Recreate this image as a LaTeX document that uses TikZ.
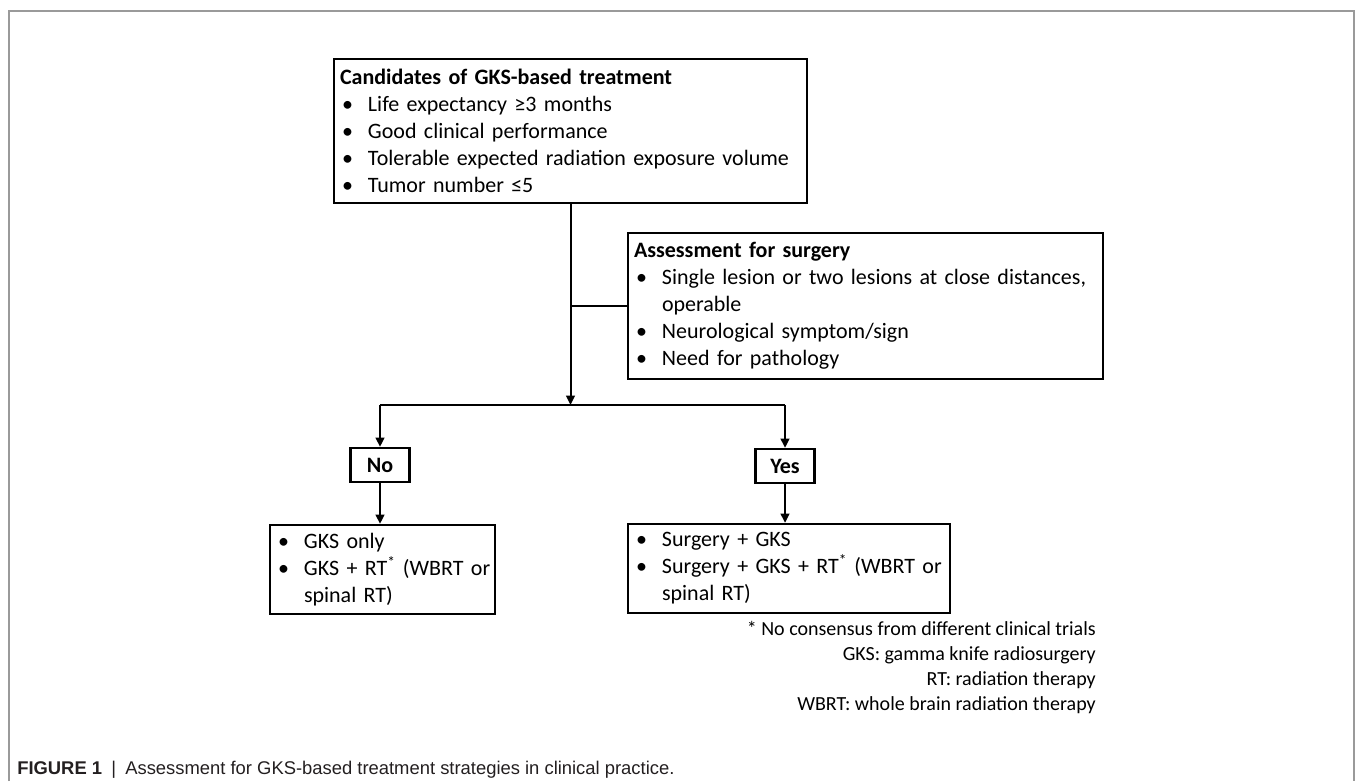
\documentclass[tikz,border=0pt]{standalone}
\usepackage{fontspec}
\setmainfont{Carlito}
\newfontfamily\capfont{Liberation Sans}
\usepackage{tikz}
\usepackage{xcolor}
\usetikzlibrary{positioning, arrows.meta}
\definecolor{frameGray}{HTML}{9A9A9A}
\definecolor{capGray}{HTML}{231F20}
\newcommand{\mainsize}{\fontsize{16.5pt}{20.25pt}\selectfont}
\newcommand{\notesize}{\fontsize{15pt}{18.75pt}\selectfont}
\newcommand{\bitem}[1]{\makebox[21pt][l]{\hspace{1.5pt}\textbullet}\mbox{#1}}
\newcommand{\bcont}[1]{\hspace*{21pt}#1}

\begin{document}
\begin{tikzpicture}[
  x=0.75pt, y=-0.75pt,
  >={Triangle[length=7pt,width=6.5pt]},
  box/.style={draw, line width=1.7pt, inner xsep=4.5pt, inner ysep=0pt,
              align=left, font=\mainsize},
  ans/.style={draw, line width=1.7pt, minimum width=44.25pt,
              minimum height=25.5pt, inner sep=0pt, font=\mainsize\bfseries},
  link/.style={line width=1.5pt},
]
  \useasboundingbox (0,0) rectangle (1355,781);

  % Outer frame
  \draw[frameGray, line width=1.5pt] (9,781) -- (9,11) -- (1354,11) -- (1354,781);

  % Candidates
  \node[box, minimum width=354.75pt, minimum height=108pt, text width=345.75pt]
    (cand) at (570.5,131) {
    \textbf{Candidates of GKS-based treatment}\\
    \bitem{Life expectancy ≥3 months}\\
    \bitem{Good clinical performance}\\
    \bitem{Tolerable expected radiation exposure volume}\\
    \bitem{Tumor number ≤5}
  };

  % Surgery check
  \node[box, minimum width=356.25pt, minimum height=109.5pt, text width=347.25pt]
    (surg) at (865.5,306) {
    \textbf{Assessment for surgery}\\
    \bitem{Single lesion or two lesions at close distances,}\\
    \bcont{operable}\\
    \bitem{Neurological symptom/sign}\\
    \bitem{Need for pathology}
  };

  % Answers
  \node[ans] (no) at (380,465) {No};
  \node[ans] (yes) at (785,466) {Yes};

  % Outcomes
  \node[box, minimum width=168.75pt, minimum height=66.75pt,
        text width=159.75pt] (gksonly) at (382.5,569.5) {
    \bitem{GKS only}\\
    \bitem{GKS + RT\textsuperscript{*} (WBRT or}\\
    \bcont{spinal RT)}
  };
  \node[box, minimum width=241.5pt, minimum height=66.75pt,
        text width=232.5pt] (gkssurg) at (789,568.5) {
    \bitem{Surgery + GKS}\\
    \bitem{Surgery + GKS + RT\textsuperscript{*} (WBRT or}\\
    \bcont{spinal RT)}
  };

  % Connectors
  \coordinate (split) at (cand.south |- 0,405);
  \draw[link, ->] (cand.south) -- (split);
  \draw[link] (cand.south |- surg.west) -- (surg.west);
  \draw[link] (no.north |- split) -- (yes.north |- split);
  \draw[link, ->] (no.north |- split) -- (no.north);
  \draw[link, ->] (yes.north |- split) -- (yes.north);
  \draw[link, ->] (no.south) -- (no.south |- gksonly.north);
  \draw[link, ->] (yes.south) -- (yes.south |- gkssurg.north);

  % Footnotes
  \node[anchor=north east, align=right, inner sep=0pt, font=\notesize]
    (notes) at (1096,621) {
    * No consensus from different clinical trials\\
    GKS: gamma knife radiosurgery\\
    RT: radiation therapy\\
    WBRT: whole brain radiation therapy
  };

  % Caption
  \node[anchor=base west, inner sep=0pt, text=capGray,
        font=\capfont\fontsize{13.8pt}{16pt}\selectfont]
    (caption) at (17,774) {\textbf{FIGURE 1}\enspace|\enspace Assessment for
    GKS-based treatment strategies in clinical practice.};
\end{tikzpicture}
\end{document}
